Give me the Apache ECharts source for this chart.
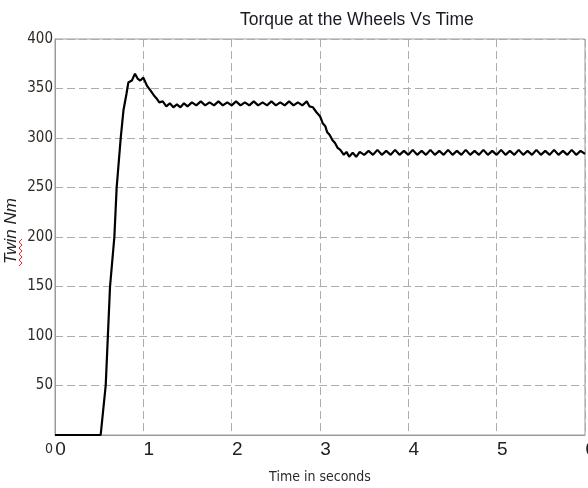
<!DOCTYPE html>
<html>
<head>
<meta charset="utf-8">
<script src="https://cdn.jsdelivr.net/npm/echarts@6/dist/echarts.min.js"></script>
<style>
  html, body { margin: 0; padding: 0; background: #fff; }
  #chart { width: 588px; height: 488px; }
</style>
</head>
<body>
<div id="chart"></div>
<script>
// Torque at the wheels (N·m) sampled against time (s)
const launchPhase = [
  [0, 0], [0.517, 0], [0.574, 50], [0.623, 150], [0.672, 200], [0.698, 250],
  [0.744, 300], [0.775, 328], [0.81, 345], [0.83, 356], [0.87, 358], [0.905, 365],
  [0.935, 360], [0.965, 358], [1.0, 361], [1.04, 353], [1.08, 348], [1.12, 343],
  [1.15, 340], [1.18, 336], [1.22, 337], [1.26, 332], [1.30, 335], [1.34, 331],
  [1.38, 334], [1.42, 331], [1.46, 335]
];
const firstPlateau = [
  [1.50, 332], [1.55, 336], [1.60, 333], [1.65, 337], [1.70, 333], [1.75, 336],
  [1.80, 333], [1.85, 337], [1.90, 333], [1.95, 336], [2.00, 333], [2.05, 337],
  [2.10, 333], [2.15, 336], [2.20, 333], [2.25, 337], [2.30, 333], [2.35, 336],
  [2.40, 333], [2.45, 337], [2.50, 333], [2.55, 336], [2.60, 333], [2.65, 337],
  [2.70, 333], [2.75, 336], [2.80, 333], [2.85, 337]
];
const shiftDrop = [
  [2.88, 332], [2.92, 331], [2.96, 326], [3.00, 322], [3.03, 315], [3.06, 312],
  [3.08, 306], [3.11, 303], [3.14, 298], [3.17, 295], [3.20, 290], [3.23, 288],
  [3.27, 283], [3.30, 286], [3.33, 281], [3.37, 285], [3.41, 281], [3.45, 286]
];
const secondPlateau = [
  [3.50, 283], [3.55, 287], [3.60, 283], [3.65, 288], [3.70, 283], [3.75, 287],
  [3.80, 283], [3.85, 288], [3.90, 283], [3.95, 287], [4.00, 283], [4.05, 288],
  [4.10, 283], [4.15, 287], [4.20, 283], [4.25, 288], [4.30, 283], [4.35, 287],
  [4.40, 283], [4.45, 288], [4.50, 283], [4.55, 287], [4.60, 283], [4.65, 288],
  [4.70, 283], [4.75, 287], [4.80, 283], [4.85, 288], [4.90, 283], [4.95, 287],
  [5.00, 283], [5.05, 288], [5.10, 283], [5.15, 287], [5.20, 283], [5.25, 288],
  [5.30, 283], [5.35, 287], [5.40, 283], [5.45, 288], [5.50, 283], [5.55, 287],
  [5.60, 283], [5.65, 288], [5.70, 283], [5.75, 287], [5.80, 283], [5.85, 288],
  [5.90, 283], [5.95, 287], [6.00, 284]
];
const torqueSeries = launchPhase.concat(firstPlateau, shiftDrop, secondPlateau);

const xTicks = [0, 1, 2, 3, 4, 5, 6];
const yTicks = [0, 50, 100, 150, 200, 250, 300, 350, 400];

const chartTitle = 'Torque at the Wheels Vs Time';
const xName = 'Time in seconds';
const yName = 'Twin Nm';

const narrow = '"Liberation Sans Narrow", "Arial Narrow", "DejaVu Sans Condensed", "Liberation Sans", sans-serif';
const regular = '"Liberation Sans", Arial, sans-serif';
const gridDash = { color: '#adadad', width: 1, type: [8, 4] };

const chart = echarts.init(document.getElementById('chart'), null, { renderer: 'canvas' });
chart.setOption({
  animation: false,
  backgroundColor: '#ffffff',
  title: {
    text: chartTitle,
    left: 235, top: 6,
    textStyle: { fontFamily: regular, fontSize: 17.5, fontWeight: 'normal', color: '#1a1a22' }
  },
  grid: {
    left: 55, right: 3, top: 39, bottom: 53,
    containLabel: false, outerBoundsMode: 'none',
    show: true, borderColor: '#9a9a9a', borderWidth: 1, backgroundColor: 'transparent'
  },
  xAxis: {
    type: 'value',
    min: xTicks[0], max: xTicks[xTicks.length - 1], interval: 1,
    name: xName, nameLocation: 'middle', nameGap: 35, nameMoveOverlap: false,
    nameTextStyle: { fontFamily: narrow, fontSize: 14, color: '#2a2a30' },
    axisLine: { show: true, lineStyle: { color: '#9a9a9a', width: 1 } },
    axisTick: { show: false },
    axisLabel: {
      fontFamily: regular, fontSize: 19, color: '#202028', margin: 5,
      padding: [0, 0, 0, 11], hideOverlap: false
    },
    splitLine: { show: true, lineStyle: gridDash }
  },
  yAxis: {
    type: 'value',
    min: yTicks[0], max: yTicks[yTicks.length - 1], interval: 50,
    name: yName, nameLocation: 'middle', nameGap: 35, nameRotate: 90, nameMoveOverlap: false,
    nameTextStyle: {
      fontFamily: regular, fontSize: 17, color: '#222', fontStyle: 'italic',
      padding: [0, 0, 0, 12]
    },
    axisLine: { show: true, lineStyle: { color: '#9a9a9a', width: 1 } },
    axisTick: { show: false },
    axisLabel: {
      fontFamily: narrow, fontSize: 15, color: '#2e2a26', margin: 2,
      showMinLabel: false
    },
    splitLine: { show: true, lineStyle: gridDash }
  },
  graphic: [
    {
      // zero label for the torque axis sits just below the corner
      type: 'text', left: 45, top: 442,
      style: { text: '0', font: '14px ' + narrow, fill: '#2e2a26' }
    },
    {
      // spell-check squiggle under the axis name
      type: 'polyline', silent: true,
      shape: { points: [[19, 266], [22, 263], [19, 260], [22, 257], [19, 254], [22, 251], [19, 248], [22, 245], [19, 242], [22, 239]] },
      style: { stroke: '#ff2020', lineWidth: 1, fill: null }
    }
  ],
  series: [{
    type: 'line',
    data: torqueSeries,
    showSymbol: false,
    smooth: false,
    lineStyle: { color: '#000000', width: 2.2 },
    clip: true
  }]
});
</script>
</body>
</html>
